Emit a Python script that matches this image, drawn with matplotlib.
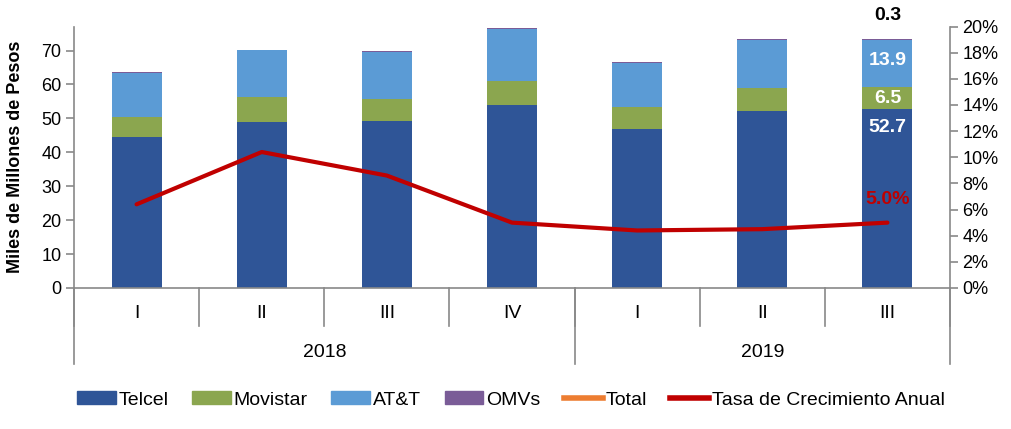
import matplotlib.pyplot as plt
from matplotlib.patches import Patch
from matplotlib.lines import Line2D
from matplotlib.ticker import FuncFormatter
from matplotlib.transforms import blended_transform_factory

plt.rcParams['font.family'] = ['Liberation Sans', 'DejaVu Sans']

# datos (miles de millones de pesos) por trimestre
trimestres = ["I", "II", "III", "IV", "I", "II", "III"]
anios = ["2018", "2019"]
trim_por_anio = [4, 3]

telcel = [44.4, 49.0, 49.3, 54.0, 47.0, 52.3, 52.7]
movistar = [6.0, 7.3, 6.5, 7.1, 6.4, 6.8, 6.5]
att = [12.9, 13.8, 13.9, 15.4, 13.0, 13.9, 13.9]
omvs = [0.3, 0.2, 0.3, 0.3, 0.2, 0.3, 0.3]
tasa = [6.4, 10.4, 8.6, 5.0, 4.4, 4.5, 5.0]  # % anual

c_telcel = "#2F5597"
c_movistar = "#8BA64F"
c_att = "#5B9BD5"
c_omvs = "#7A5C97"
c_total = "#ED7D31"
c_tasa = "#C00000"
gris = "#898989"

fig = plt.figure(figsize=(10.12, 4.29), dpi=100)
ax = fig.add_axes([74/1012, 1-288/429, 876/1012, 261.5/429])
ax2 = ax.twinx()

x = list(range(len(trimestres)))
w = 0.4
b1 = telcel
b2 = [a + b for a, b in zip(b1, movistar)]
b3 = [a + b for a, b in zip(b2, att)]
ax.bar(x, telcel, w, color=c_telcel, zorder=2)
ax.bar(x, movistar, w, bottom=b1, color=c_movistar, zorder=2)
ax.bar(x, att, w, bottom=b2, color=c_att, zorder=2)
ax.bar(x, omvs, w, bottom=b3, color=c_omvs, zorder=2)

ax2.plot(x, [t/100 for t in tasa], color=c_tasa, lw=3, solid_capstyle='round', zorder=3)

ax.set_xlim(-0.5, len(x) - 0.5)
ax.set_ylim(0, 77.1)
ax2.set_ylim(0, 0.20)
ax.set_yticks(range(0, 80, 10))
ax2.set_yticks([i/100 for i in range(0, 21, 2)])
ax2.yaxis.set_major_formatter(FuncFormatter(lambda v, p: f"{v*100:.0f}%"))
ax.set_xticks([])

for a in (ax, ax2):
    for s in ("top",):
        a.spines[s].set_visible(False)
    for s in a.spines.values():
        s.set_color(gris)
        s.set_linewidth(1.2)
    a.tick_params(axis='y', color=gris, width=1.2, length=6, labelsize=13, pad=3)
ax.spines["right"].set_visible(False)
ax2.spines["left"].set_visible(False)
ax2.spines["bottom"].set_visible(False)

# eje de categorias jerarquico
tr = blended_transform_factory(ax.transData, ax.transAxes)
for i in range(len(x) + 1):
    ax.plot([i - 0.5, i - 0.5], [0, -0.145], transform=tr, color=gris, lw=1.2, clip_on=False)
for i, q in enumerate(trimestres):
    ax.text(i, -0.099, q, transform=tr, ha='center', va='center', fontsize=14)
inicio = 0
ax.plot([-0.5, -0.5], [0, -0.29], transform=tr, color=gris, lw=1.2, clip_on=False)
for anio, n in zip(anios, trim_por_anio):
    fin = inicio + n
    ax.plot([fin - 0.5, fin - 0.5], [0, -0.29], transform=tr, color=gris, lw=1.2, clip_on=False)
    ax.text((inicio + fin - 1) / 2, -0.245, anio, transform=tr, ha='center', va='center', fontsize=14)
    inicio = fin

# etiquetas del ultimo trimestre
k = len(x) - 1
ax.annotate(f"{telcel[k]:.1f}", (k, telcel[k]), xytext=(0, -7), textcoords='offset points',
            ha='center', va='top', color='white', fontsize=14, fontweight='bold', zorder=4)
ax.text(k, b1[k] + movistar[k]/2, f"{movistar[k]:.1f}", ha='center', va='center',
        color='white', fontsize=14, fontweight='bold', zorder=4)
ax.text(k, b2[k] + att[k]/2 + 0.8, f"{att[k]:.1f}", ha='center', va='center',
        color='white', fontsize=14, fontweight='bold', zorder=4)
ax.annotate(f"{omvs[k]:.1f}", (k, b3[k] + omvs[k]), xytext=(0, 11), textcoords='offset points',
            ha='center', va='bottom', color='black', fontsize=14, fontweight='bold')
ax2.annotate(f"{tasa[k]:.1f}%", (k, tasa[k]/100), xytext=(0, 17), textcoords='offset points',
             ha='center', va='center', color=c_tasa, fontsize=14, fontweight='bold')

fig.text(16/1012, 1-157/429, "Miles de Millones de Pesos", rotation=90, ha='center', va='center',
         fontsize=13, fontweight='bold')

handles = [Patch(color=c_telcel), Patch(color=c_movistar), Patch(color=c_att), Patch(color=c_omvs),
           Line2D([], [], color=c_total, lw=4), Line2D([], [], color=c_tasa, lw=4)]
labels = ["Telcel", "Movistar", "AT&T", "OMVs", "Total", "Tasa de Crecimiento Anual"]
fig.legend(handles, labels, loc='center', bbox_to_anchor=(511/1012, 1-400/429), ncol=6,
           frameon=False, fontsize=14, handlelength=2.0, handleheight=0.6,
           handletextpad=0.15, columnspacing=1.2, borderpad=0)

fig.savefig("out.png", dpi=100)
